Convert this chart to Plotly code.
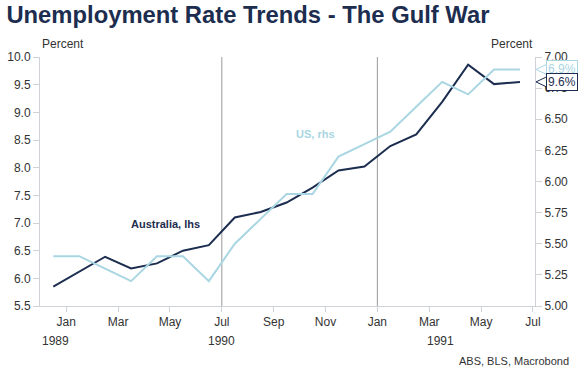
import plotly.graph_objects as go

# Monthly observations, Dec 1989 .. Jun 1991
months = ["Dec 1989", "Jan 1990", "Feb 1990", "Mar 1990", "Apr 1990", "May 1990",
          "Jun 1990", "Jul 1990", "Aug 1990", "Sep 1990", "Oct 1990", "Nov 1990",
          "Dec 1990", "Jan 1991", "Feb 1991", "Mar 1991", "Apr 1991", "May 1991",
          "Jun 1991"]
australia = [5.85, 6.12, 6.39, 6.18, 6.27, 6.50, 6.60, 7.10, 7.20, 7.37, 7.64,
             7.95, 8.02, 8.39, 8.60, 9.19, 9.86, 9.51, 9.55]
us = [5.4, 5.4, 5.3, 5.2, 5.4, 5.4, 5.2, 5.5, 5.7, 5.9, 5.9, 6.2, 6.3, 6.4,
      6.6, 6.8, 6.7, 6.9, 6.9]

month_ticks = ["Jan", "Mar", "May", "Jul", "Sep", "Nov", "Jan", "Mar", "May", "Jul"]
year_labels = ["1989", "1990", "1991"]
left_ticks = [5.5, 6.0, 6.5, 7.0, 7.5, 8.0, 8.5, 9.0, 9.5, 10.0]
right_ticks = [5.00, 5.25, 5.50, 5.75, 6.00, 6.25, 6.50, 6.75, 7.00]
event_ticks = [6.5, 12.5]  # Jul 1990, Jan 1991 markers

AUS_COL = "#1c2d4f"
US_COL = "#a9d6e2"
TXT = "#333333"
AXC = "#cfd3d8"
FONT = "Arial, Liberation Sans, sans-serif"

x = list(range(len(months)))
tickpos = [0.5 + 2 * i for i in range(len(month_ticks))]

fig = go.Figure()
fig.add_trace(go.Scatter(x=x, y=us, yaxis="y2", mode="lines",
                         line=dict(color=US_COL, width=2), name="US, rhs",
                         text=months, hoverinfo="text+y"))
fig.add_trace(go.Scatter(x=x, y=australia, mode="lines",
                         line=dict(color=AUS_COL, width=2), name="Australia, lhs",
                         text=months, hoverinfo="text+y"))

shapes = []
for ev in event_ticks:
    shapes.append(dict(type="line", xref="x", yref="paper", x0=ev, x1=ev, y0=0, y1=1,
                       line=dict(color="#9a9a9a", width=1), layer="below"))

# chevron pointers of the value tags at the right axis
def pointer(yval, yref, color):
    return dict(type="path", xref="paper", yref=yref, xsizemode="pixel", ysizemode="pixel",
                xanchor=1, yanchor=yval,
                path="M 11.5,5 L 1,0 L 11.5,-5",
                line=dict(color=color, width=1), fillcolor="white", layer="above")

shapes.append(pointer(us[-1], "y2", US_COL))
shapes.append(pointer(australia[-1], "y", AUS_COL))

annotations = [
    dict(text="Percent", xref="paper", yref="paper", x=0, y=1, xanchor="left",
         yanchor="bottom", yshift=4, showarrow=False, font=dict(size=12, color=TXT, family=FONT)),
    dict(text="Percent", xref="paper", yref="paper", x=1, y=1, xanchor="right",
         yanchor="bottom", yshift=4, showarrow=False, font=dict(size=12, color=TXT, family=FONT)),
    dict(text="<b>US, rhs</b>", x=10.13, y=8.61, xref="x", yref="y", showarrow=False,
         font=dict(size=11, color=US_COL, family=FONT)),
    dict(text="<b>Australia, lhs</b>", x=4.33, y=6.98, xref="x", yref="y", showarrow=False,
         font=dict(size=11, color=AUS_COL, family=FONT)),
    dict(text="ABS, BLS, Macrobond", xref="paper", yref="paper", x=1.073, y=-0.22,
         xanchor="right", yanchor="middle", showarrow=False,
         font=dict(size=11, color=TXT, family=FONT)),
    dict(text=f"{us[-1]:.1f}%", xref="paper", yref="y2", x=1, y=us[-1], xshift=11,
         xanchor="left", yanchor="middle", showarrow=False, bgcolor="white",
         bordercolor=US_COL, borderwidth=1, borderpad=1,
         font=dict(size=12, color=US_COL, family=FONT)),
    dict(text=f"{australia[-1]:.1f}%", xref="paper", yref="y", x=1, y=australia[-1], xshift=11,
         xanchor="left", yanchor="middle", showarrow=False, bgcolor="white",
         bordercolor=AUS_COL, borderwidth=1, borderpad=1,
         font=dict(size=12, color=AUS_COL, family=FONT)),
]
# year labels: paper positions (first one lies at the left edge of the plot)
for lbl, xp in zip(year_labels, [-0.001, 0.3663, 0.84]):
    annotations.append(dict(text=lbl, x=xp, xref="paper", yref="paper", y=0, yshift=-35,
                            yanchor="middle", showarrow=False,
                            font=dict(size=12, color=TXT, family=FONT)))

fig.update_layout(
    width=580, height=372,
    margin=dict(l=40, r=45, t=57, b=66, autoexpand=False),
    paper_bgcolor="white", plot_bgcolor="white",
    showlegend=False,
    font=dict(family=FONT, color=TXT, size=12),
    title=dict(text="<b>Unemployment Rate Trends - The Gulf War</b>",
               font=dict(size=23.8, color="#1c2d4f", family=FONT),
               xref="container", yref="container", x=0.011, xanchor="left",
               y=0.982, yanchor="top"),
    xaxis=dict(range=[-0.513, 18.58], tickvals=tickpos, ticktext=month_ticks,
               showgrid=False, zeroline=False, showline=True, linecolor=AXC,
               ticks="outside", ticklen=5, tickcolor=AXC, automargin=False,
               tickfont=dict(size=12, color=TXT)),
    yaxis=dict(range=[5.5, 10.0], tickvals=left_ticks,
               ticktext=[f"{v:.1f}" for v in left_ticks],
               showgrid=False, zeroline=False, showline=True, linecolor=AXC,
               ticks="outside", ticklen=6, tickcolor=AXC, automargin=False,
               tickfont=dict(size=12, color=TXT)),
    yaxis2=dict(range=[5.0, 7.0], tickvals=right_ticks,
                ticktext=[f"{v:.2f}" for v in right_ticks],
                overlaying="y", side="right",
                showgrid=False, zeroline=False, showline=True, linecolor=AXC,
                ticks="outside", ticklen=6, tickcolor=AXC, automargin=False,
                tickfont=dict(size=12, color=TXT)),
    shapes=shapes,
    annotations=annotations,
)

fig.write_html("out.html", config={"displayModeBar": False},
               post_script="document.body.style.margin='0px';document.body.style.overflow='hidden';")
